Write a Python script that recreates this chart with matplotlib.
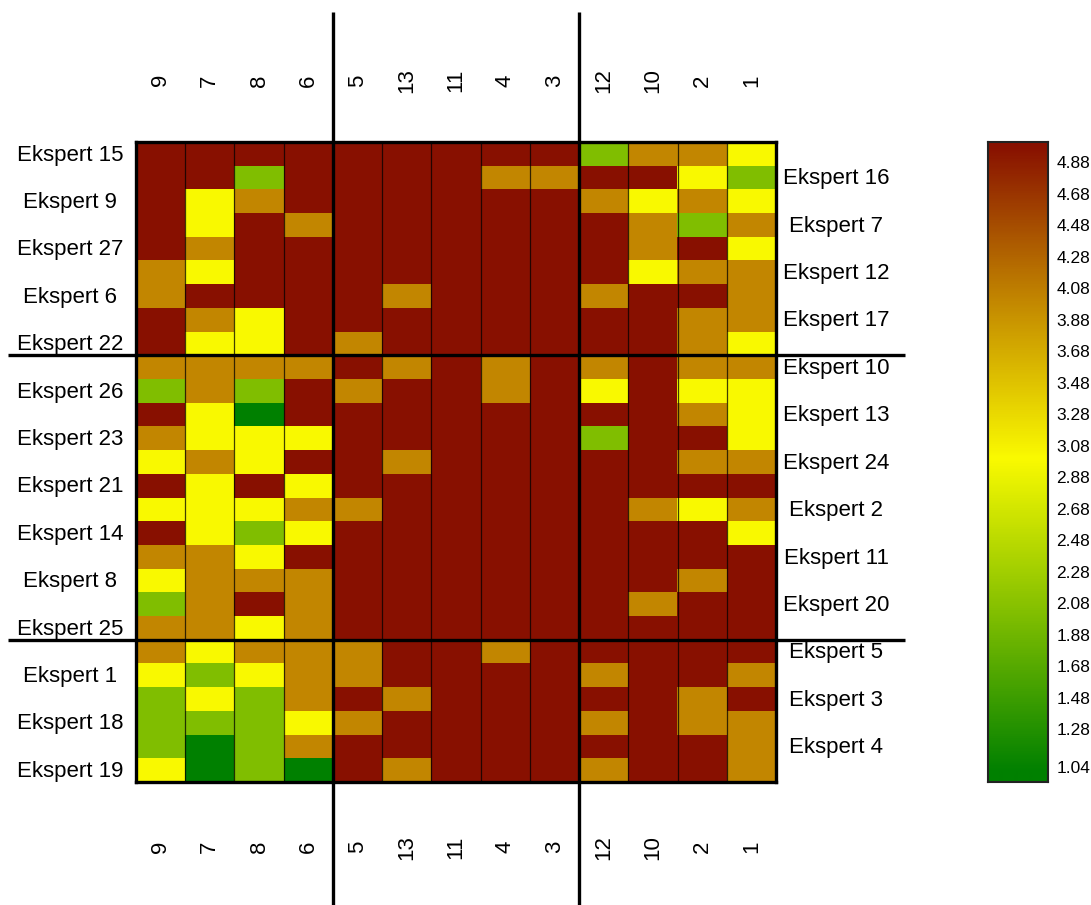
import matplotlib
matplotlib.use("Agg")
import matplotlib.pyplot as plt
import numpy as np
from matplotlib.colors import LinearSegmentedColormap, Normalize
from matplotlib.transforms import blended_transform_factory

plt.rcParams['font.family'] = ['Liberation Sans', 'DejaVu Sans']

# Criteria (columns), in clustered order
criteria = ["9", "7", "8", "6", "5", "13", "11", "4", "3", "12", "10", "2", "1"]

# Experts (rows), in clustered order, top to bottom
experts = [
    "Ekspert 15", "Ekspert 16", "Ekspert 9", "Ekspert 7", "Ekspert 27",
    "Ekspert 12", "Ekspert 6", "Ekspert 17", "Ekspert 22", "Ekspert 10",
    "Ekspert 26", "Ekspert 13", "Ekspert 23", "Ekspert 24", "Ekspert 21",
    "Ekspert 2", "Ekspert 14", "Ekspert 11", "Ekspert 8", "Ekspert 20",
    "Ekspert 25", "Ekspert 5", "Ekspert 1", "Ekspert 3", "Ekspert 18",
    "Ekspert 4", "Ekspert 19",
]

# Ratings (1-5) per expert row, columns follow `criteria`
scores = [
    [5, 5, 5, 5, 5, 5, 5, 5, 5, 2, 4, 4, 3],
    [5, 5, 2, 5, 5, 5, 5, 4, 4, 5, 5, 3, 2],
    [5, 3, 4, 5, 5, 5, 5, 5, 5, 4, 3, 4, 3],
    [5, 3, 5, 4, 5, 5, 5, 5, 5, 5, 4, 2, 4],
    [5, 4, 5, 5, 5, 5, 5, 5, 5, 5, 4, 5, 3],
    [4, 3, 5, 5, 5, 5, 5, 5, 5, 5, 3, 4, 4],
    [4, 5, 5, 5, 5, 4, 5, 5, 5, 4, 5, 5, 4],
    [5, 4, 3, 5, 5, 5, 5, 5, 5, 5, 5, 4, 4],
    [5, 3, 3, 5, 4, 5, 5, 5, 5, 5, 5, 4, 3],
    [4, 4, 4, 4, 5, 4, 5, 4, 5, 4, 5, 4, 4],
    [2, 4, 2, 5, 4, 5, 5, 4, 5, 3, 5, 3, 3],
    [5, 3, 1, 5, 5, 5, 5, 5, 5, 5, 5, 4, 3],
    [4, 3, 3, 3, 5, 5, 5, 5, 5, 2, 5, 5, 3],
    [3, 4, 3, 5, 5, 4, 5, 5, 5, 5, 5, 4, 4],
    [5, 3, 5, 3, 5, 5, 5, 5, 5, 5, 5, 5, 5],
    [3, 3, 3, 4, 4, 5, 5, 5, 5, 5, 4, 3, 4],
    [5, 3, 2, 3, 5, 5, 5, 5, 5, 5, 5, 5, 3],
    [4, 4, 3, 5, 5, 5, 5, 5, 5, 5, 5, 5, 5],
    [3, 4, 4, 4, 5, 5, 5, 5, 5, 5, 5, 4, 5],
    [2, 4, 5, 4, 5, 5, 5, 5, 5, 5, 4, 5, 5],
    [4, 4, 3, 4, 5, 5, 5, 5, 5, 5, 5, 5, 5],
    [4, 3, 4, 4, 4, 5, 5, 4, 5, 5, 5, 5, 5],
    [3, 2, 3, 4, 4, 5, 5, 5, 5, 4, 5, 5, 4],
    [2, 3, 2, 4, 5, 4, 5, 5, 5, 5, 5, 4, 5],
    [2, 2, 2, 3, 4, 5, 5, 5, 5, 4, 5, 4, 4],
    [2, 1, 2, 4, 5, 5, 5, 5, 5, 5, 5, 5, 4],
    [3, 1, 2, 1, 5, 4, 5, 5, 5, 4, 5, 5, 4],
]

# Cluster boundaries (index of first row / column in the next cluster)
row_breaks = [9, 21]
col_breaks = [4, 9]

# Colour scale labels
scale_ticks = [4.88, 4.68, 4.48, 4.28, 4.08, 3.88, 3.68, 3.48, 3.28, 3.08,
               2.88, 2.68, 2.48, 2.28, 2.08, 1.88, 1.68, 1.48, 1.28, 1.04]

W, H = 1091, 905
fig = plt.figure(figsize=(W / 100, H / 100), dpi=100)
ax = fig.add_axes([136 / W, 1 - 782 / H, 640 / W, 640 / H])

cmap = LinearSegmentedColormap.from_list(
    "rating",
    [(0.0, "#008000"), (0.25, "#80be00"), (0.5, "#fafa00"),
     (0.75, "#c38800"), (1.0, "#881000")],
)
norm = Normalize(1, 5)

data = np.array(scores, dtype=float)
n_rows, n_cols = data.shape
ax.imshow(data, cmap=cmap, norm=norm, aspect="auto", interpolation="nearest")
ax.set_xlim(-0.5, n_cols - 0.5)
ax.set_ylim(n_rows - 0.5, -0.5)
ax.set_xticks([])
ax.set_yticks([])
for sp in ax.spines.values():
    sp.set_linewidth(2.4)
    sp.set_color("black")

# thin separators between criteria
for c in range(1, n_cols):
    if c not in col_breaks:
        ax.axvline(c - 0.5, color="black", lw=0.9, alpha=0.75)

fs = 16

# criterion labels above and below
for j, name in enumerate(criteria):
    ax.text(j, -3.1, name, rotation=90, ha="center", va="center",
            fontsize=fs, clip_on=False)
    ax.text(j, n_rows - 0.5 + 2.75, name, rotation=90, ha="center",
            va="center", fontsize=fs, clip_on=False)

# expert labels alternate left / right
tx = blended_transform_factory(fig.transFigure, ax.transData)
for i, name in enumerate(experts):
    if i % 2 == 0:
        fig.text(70 / W, i + 0.05, name, transform=tx, ha="center",
                 va="center", fontsize=fs)
    else:
        fig.text(836 / W, i + 0.05, name, transform=tx, ha="center",
                 va="center", fontsize=fs)

# cluster dividers extending past the heatmap
vt = blended_transform_factory(ax.transData, ax.transAxes)
for c in col_breaks:
    ax.plot([c - 0.5, c - 0.5], [(782 - 12) / 640, (782 - 905) / 640],
            color="black", lw=2.4, transform=vt, clip_on=False,
            solid_capstyle="butt")
ht = blended_transform_factory(ax.transAxes, ax.transData)
for r in row_breaks:
    ax.plot([(8 - 136) / 640, (905 - 136) / 640], [r - 0.5, r - 0.5],
            color="black", lw=2.4, transform=ht, clip_on=False,
            solid_capstyle="butt")

# colour scale
lo, hi = 0.945, 5.01
cax = fig.add_axes([988 / W, 1 - 782 / H, 60 / W, 640 / H])
grad = np.linspace(lo, hi, 600)[:, None]
cax.imshow(grad, cmap=cmap, norm=norm, aspect="auto", origin="lower",
           extent=[0, 1, lo, hi], interpolation="bilinear")
cax.set_xlim(0, 1)
cax.set_ylim(lo, hi)
cax.set_xticks([])
cax.yaxis.tick_right()
cax.set_yticks(scale_ticks)
cax.set_yticklabels([f"{t:.2f}" for t in scale_ticks], fontsize=12.5)
cax.tick_params(axis="y", length=0, pad=6)
for sp in cax.spines.values():
    sp.set_linewidth(1.5)
    sp.set_color("#222222")

fig.savefig("out.png", dpi=100)
